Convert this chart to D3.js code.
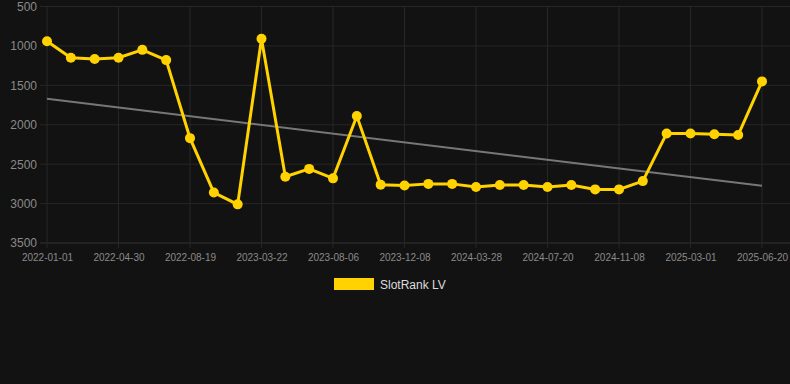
<!DOCTYPE html>
<html><head><meta charset="utf-8">
<script src="https://cdn.jsdelivr.net/npm/d3@7"></script>
<style>html,body{margin:0;padding:0;background:#121212;}svg{display:block;font-family:"Liberation Sans",Arial,sans-serif;}</style>
</head><body>
<svg id="c" width="790" height="384"></svg>
<script>
const dates = ["2022-01-01","2022-02-09","2022-03-21","2022-04-30","2022-06-09","2022-07-19","2022-08-19","2022-10-30","2023-01-10","2023-03-22","2023-05-06","2023-06-21","2023-08-06","2023-09-20","2023-10-25","2023-12-08","2024-01-10","2024-02-20","2024-03-28","2024-05-05","2024-06-12","2024-07-20","2024-08-28","2024-10-01","2024-11-08","2024-12-15","2025-01-20","2025-03-01","2025-04-05","2025-05-12","2025-06-20"];
const ranks = [940,1150,1165,1150,1050,1180,2170,2860,3010,910,2660,2560,2680,1890,2760,2770,2750,2750,2790,2765,2765,2790,2765,2820,2820,2715,2110,2110,2120,2130,1450];
const trend = [1670,2775];
const yTicks = [500,1000,1500,2000,2500,3000,3500];
const seriesName = "SlotRank LV";

const svg = d3.select("#c");
const mLeft = 47, mRight = 762, mTop = 6.5, mBottom = 243;
const x = d3.scalePoint().domain(dates).range([mLeft, mRight]);
const y = d3.scaleLinear().domain([500, 3500]).range([mTop, mBottom]);
const gridColor = "#262626";
const labelDates = dates.filter((d,i)=>i%3===0);

// horizontal grid
svg.append("g").selectAll("line").data(yTicks).join("line")
  .attr("x1", 40).attr("x2", 790).attr("y1", d=>y(d)).attr("y2", d=>y(d))
  .attr("stroke", d=>d===3500?"#333":gridColor).attr("stroke-width",1);
// vertical grid
svg.append("g").selectAll("line").data(labelDates).join("line")
  .attr("x1", d=>x(d)).attr("x2", d=>x(d)).attr("y1", mTop).attr("y2", mBottom+5)
  .attr("stroke", gridColor).attr("stroke-width",1);

// y axis labels
const yAxis = d3.axisLeft(y).tickValues(yTicks).tickFormat(d3.format("d")).tickSize(0).tickPadding(0);
const ya = svg.append("g").attr("transform","translate(37,0)").call(yAxis);
ya.select(".domain").remove();
ya.selectAll("text").attr("fill","#8a8a8a").attr("font-size",12).attr("font-family","Liberation Sans, Arial, sans-serif");

// x axis labels
const xAxis = d3.axisBottom(x).tickValues(labelDates).tickSize(0).tickPadding(0);
const xa = svg.append("g").attr("transform",`translate(0,${mBottom+11})`).call(xAxis);
xa.select(".domain").remove();
xa.selectAll("text").attr("fill","#8a8a8a").attr("font-size",10).attr("font-family","Liberation Sans, Arial, sans-serif");

// trend line
svg.append("line")
  .attr("x1", x(dates[0])).attr("x2", x(dates[dates.length-1]))
  .attr("y1", y(trend[0])).attr("y2", y(trend[1]))
  .attr("stroke","#777").attr("stroke-width",2);

const color = "#ffd200";
const line = d3.line().x((d,i)=>x(dates[i])).y(d=>y(d));
svg.append("path").datum(ranks).attr("d", line)
  .attr("fill","none").attr("stroke",color).attr("stroke-width",3).attr("stroke-linejoin","miter");
svg.append("g").selectAll("circle").data(ranks).join("circle")
  .attr("cx",(d,i)=>x(dates[i])).attr("cy",d=>y(d)).attr("r",5).attr("fill",color);

// legend
svg.append("rect").attr("x",334).attr("y",278).attr("width",40).attr("height",12).attr("fill",color);
svg.append("text").attr("x",380).attr("y",288.5).attr("fill","#dddddd").attr("font-size",12).text(seriesName);
</script>
</body></html>
